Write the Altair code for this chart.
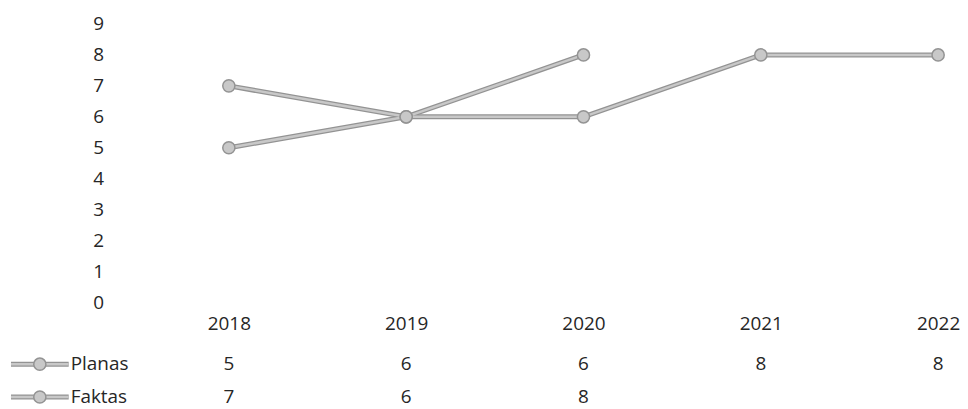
import altair as alt
import pandas as pd

years = ["2018", "2019", "2020", "2021", "2022"]
planas = [5, 6, 6, 8, 8]
faktas = [7, 6, 8, None, None]
series_names = ["Planas", "Faktas"]

rows = []
for s, vals in zip(series_names, [planas, faktas]):
    for y, v in zip(years, vals):
        if v is not None:
            rows.append({"year": y, "series": s, "value": v, "label": str(v)})
df = pd.DataFrame(rows)
leg = pd.DataFrame({"series": series_names})

FONT = "Open Sans"
TXT = "#262626"
OUTER = "#939393"
INNER = "#c8c8c8"

xenc = alt.X("year:O", scale=alt.Scale(type="point", domain=years, range=[89, 802], padding=0),
             axis=alt.Axis(title=None, domain=False, ticks=False, labelAngle=0,
                           labelPadding=12, labelFont=FONT, labelFontSize=19,
                           labelColor=TXT))
yenc = alt.Y("value:Q", scale=alt.Scale(domain=[0, 9], nice=False),
             axis=alt.Axis(title=None, domain=False, ticks=False, grid=False,
                           values=list(range(10)), labelPadding=37, labelFont=FONT,
                           labelFontSize=19, labelColor=TXT))

base = alt.Chart(df).encode(x=xenc, y=yenc, detail="series:N")
outer = base.mark_line(color=OUTER, strokeWidth=5)
inner = base.mark_line(color=INNER, strokeWidth=2.5)
pts = base.mark_point(shape="circle", size=150, filled=True, fill=INNER,
                      stroke=OUTER, strokeWidth=1.5, opacity=1)
lines = alt.layer(outer, inner, pts)

ytab = alt.Y("series:N", scale=alt.Scale(type="point", domain=series_names,
                                         range=[342, 375], padding=0),
             axis=None)
xtab = alt.X("year:O", scale=alt.Scale(type="point", domain=years, range=[89, 802], padding=0))
table_txt = alt.Chart(df).mark_text(font=FONT, fontSize=19, color=TXT,
                                    baseline="middle").encode(x=xtab, y=ytab, text="label:N")
lk = alt.Chart(leg)
key_outer = lk.mark_rule(color=OUTER, strokeWidth=5).encode(
    x=alt.value(-130), x2=alt.value(-72), y=ytab)
key_inner = lk.mark_rule(color=INNER, strokeWidth=2.5).encode(
    x=alt.value(-130), x2=alt.value(-72), y=ytab)
key_pt = lk.mark_point(shape="circle", size=150, filled=True, fill=INNER,
                       stroke=OUTER, strokeWidth=1.5, opacity=1).encode(
    x=alt.value(-101), y=ytab)
key_lbl = lk.mark_text(font=FONT, fontSize=19, color=TXT, align="left",
                       baseline="middle").encode(x=alt.value(-70), y=ytab, text="series:N")
table = alt.layer(table_txt, key_outer, key_inner, key_pt, key_lbl)

chart = alt.layer(lines, table).resolve_scale(y="independent").properties(
    width=815, height=280, background="white",
    padding={"left": 0, "top": 6, "right": 0, "bottom": 0},
).configure_view(strokeWidth=0, stroke=None)

chart.save("out.html", embed_options={"renderer": "svg", "actions": False})
